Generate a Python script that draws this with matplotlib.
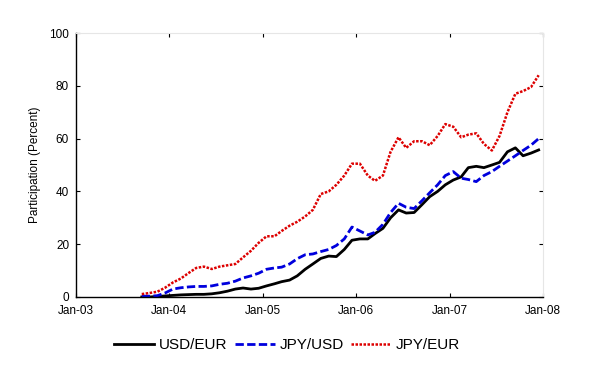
import matplotlib
matplotlib.use("Agg")
import matplotlib.pyplot as plt
import matplotlib.dates as mdates
import numpy as np
import pandas as pd

plt.rcParams["font.family"] = ["Liberation Sans", "DejaVu Sans"]

# monthly observations, mid-month, Sep-2003 .. Dec-2007
dates = pd.date_range("2003-09-01", periods=52, freq="MS") + pd.Timedelta(days=14)

usd_eur = [0, 0, 0.2, 0.4, 0.6, 0.8, 0.9, 1, 1, 1.2, 1.6, 2.2, 3, 3.4, 3, 3.3,
           4.2, 5, 5.8, 6.4, 8, 10.5, 12.5, 14.6, 15.5, 15.3, 18, 21.5, 22, 22,
           24, 26, 30, 33, 31.8, 32, 35, 38, 40, 42.5, 44.3, 45.5, 49, 49.5,
           49, 50, 51, 55, 56.5, 53.5, 54.5, 55.7]
jpy_usd = [0.3, 0.3, 0.5, 1.5, 3, 3.5, 3.8, 4, 4, 4.2, 4.8, 5.2, 6, 7.2, 8, 9,
           10.5, 11, 11.3, 12.5, 14.5, 16, 16.3, 17.2, 18, 19.5, 22, 26.5, 25,
           23.5, 24.5, 27.5, 32, 35.5, 34, 33.5, 36.5, 39.5, 42.5, 46, 47.5,
           45, 44.5, 43.7, 46, 47.5, 49.5, 51.5, 53.5, 55.5, 57.5, 60]
jpy_eur = [1.1, 1.5, 2, 3.5, 5.5, 7, 9, 11, 11.5, 10.6, 11.5, 12, 12.5, 15,
           17.5, 20.5, 23, 23, 25, 27, 28.5, 30.5, 33, 39, 40, 42.5, 46, 50.5,
           50.5, 46, 44, 46, 55, 60.5, 56.5, 59, 59, 57.5, 61, 65.5, 64.5,
           60.5, 61.5, 62, 58, 55.5, 61, 70, 77, 78, 79.5, 84]

fig = plt.figure(figsize=(6, 3.71), dpi=100)
ax = fig.add_axes([0.1267, 0.1995, 0.7783, 0.7115])

ax.plot(dates, usd_eur, color="black", lw=2, label="USD/EUR")
ax.plot(dates, jpy_usd, color="#0000dd", lw=2, ls=(0, (3, 1.2)), label="JPY/USD")
ax.plot(dates, jpy_eur, color="#dd0000", lw=1.8, ls=(0, (1, 0.6)), label="JPY/EUR")

ax.set_xlim(pd.Timestamp("2003-01-01"), pd.Timestamp("2008-01-01"))
ax.set_ylim(0, 100)
ax.set_yticks(np.arange(0, 101, 20))
ax.xaxis.set_major_locator(mdates.YearLocator())
ax.xaxis.set_major_formatter(mdates.DateFormatter("%b-%y"))
ax.tick_params(direction="in", length=3, labelsize=8.5, top=True, right=True)
ax.tick_params(axis="x", pad=6)
ax.tick_params(axis="y", pad=5)
ax.set_ylabel("Participation (Percent)", fontsize=8.5, labelpad=6)

for side in ["top", "right"]:
    ax.spines[side].set_color("#e6e6e6")
ax.spines["left"].set_linewidth(1)
ax.spines["bottom"].set_linewidth(1)

ax.legend(loc="upper center", bbox_to_anchor=(0.452, -0.105), ncol=3,
          frameon=False, fontsize=11, handlelength=2.6, handletextpad=0.3,
          columnspacing=0.5)

fig.savefig("out.png", dpi=100)
